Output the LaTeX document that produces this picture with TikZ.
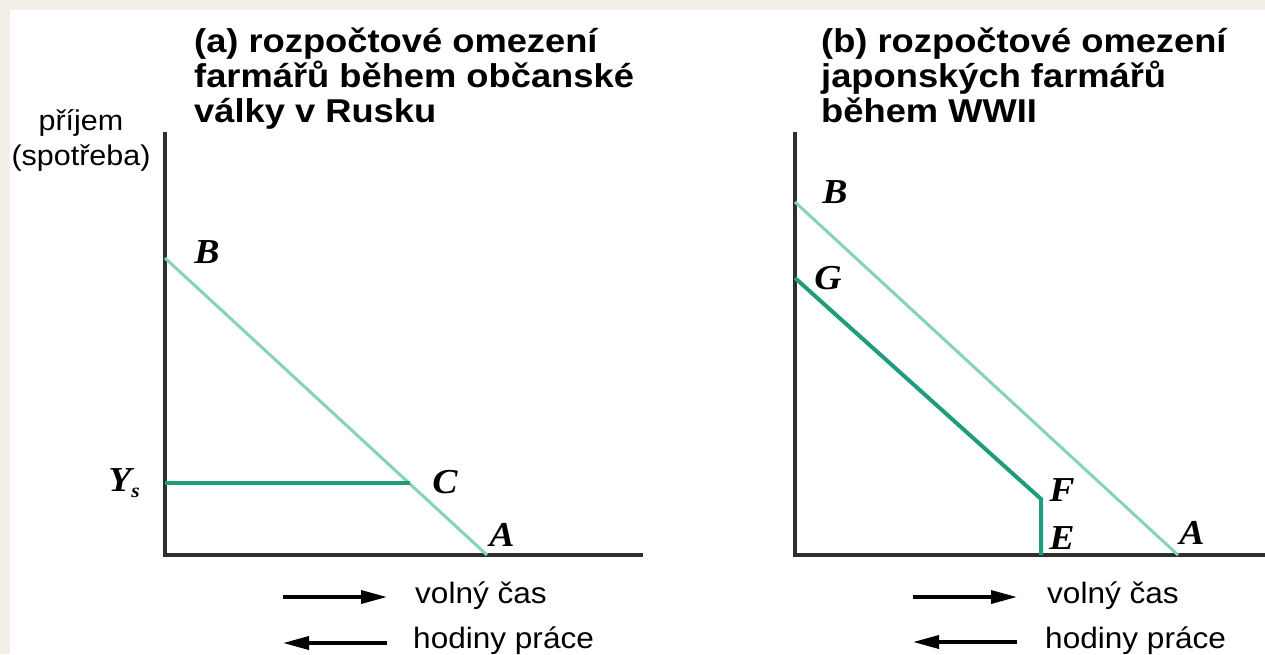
\documentclass[tikz,border=0pt]{standalone}
\usepackage{fontspec}
\setmainfont[FakeStretch=1.07]{Liberation Sans}
\newfontfamily\titlefont[FakeStretch=1.1]{Liberation Sans}
\newfontfamily\ptfont[FakeStretch=1.08]{Liberation Serif}
\usetikzlibrary{arrows.meta}
\definecolor{paper}{HTML}{F2EFE9}
\definecolor{lightteal}{HTML}{86D3B8}
\definecolor{darkteal}{HTML}{1F9C7E}
\definecolor{axisgray}{HTML}{2E2E2E}

\begin{document}
\begin{tikzpicture}[x=1pt, y=-1pt,
  axis/.style={axisgray, line width=4pt, line join=miter},
  budget/.style={lightteal, line width=3pt},
  limit/.style={darkteal, line width=4pt, line join=miter},
  ptlabel/.style={font=\ptfont\fontsize{35}{35}\selectfont\bfseries\itshape, inner sep=0pt},
  title/.style={font=\titlefont\fontsize{33}{35}\selectfont\bfseries, align=left, anchor=north west, inner sep=0pt},
  legend/.style={font=\fontsize{29.5}{29.5}\selectfont, anchor=west, inner sep=0pt},
  legarrow/.style={black, line width=3.5pt, -{Triangle[length=26pt,width=13pt]}}]
\fill[paper] (0,0) rectangle (1265,654);
\fill[white] (10,10) rectangle (1265,654);
\useasboundingbox (0,0) rectangle (1265,654);

% (a)
\coordinate (aTop) at (165,132);
\coordinate (aO) at (165,555);
\coordinate (aEnd) at (643,555);
\coordinate (aB) at (165,258);
\coordinate (aA) at (487,555);
\coordinate (aYs) at (165,483);
\coordinate (aC) at (410,483);
\draw[axis] (aTop) -- (aO) -- (aEnd);
\draw[budget] (aB) -- (aA);
\draw[limit] (aYs) -- (aC);
\node[title] (titleA) at (194,28) {(a) rozpočtové omezení\\farmářů během občanské\\války v Rusku};
\node[font=\fontsize{28.5}{35}\selectfont, align=center, inner sep=0pt] (ylab) at (81,140) {příjem\\(spotřeba)};
\node[ptlabel] (labBa) at (207,252) {B};
\node[ptlabel] (labYs) at (124,483) {Y\raisebox{-6pt}{\fontsize{20}{20}\selectfont s}};
\node[ptlabel] (labC) at (445,482) {C};
\node[ptlabel] (labAa) at (502,535) {A};
\coordinate (aL1s) at (283,597);
\coordinate (aL1e) at (387,597);
\coordinate (aL2s) at (387,643);
\coordinate (aL2e) at (283,643);
\draw[legarrow] (aL1s) -- (aL1e);
\draw[legarrow] (aL2s) -- (aL2e);
\node[legend] (freeA) at (415,596) {volný čas};
\node[legend] (workA) at (413,641) {hodiny práce};

% (b)
\coordinate (bTop) at (795,132);
\coordinate (bO) at (795,555);
\coordinate (bEnd) at (1265,555);
\coordinate (bB) at (795,202);
\coordinate (bA) at (1178,555);
\coordinate (bG) at (795,278);
\coordinate (bF) at (1041,499);
\coordinate (bE) at (1041,555);
\draw[axis] (bTop) -- (bO) -- (bEnd);
\draw[budget] (bB) -- (bA);
\draw[limit] (bG) -- (bF) -- (bE);
\node[title] (titleB) at (821,28) {(b) rozpočtové omezení\\japonských farmářů\\během WWII};
\node[ptlabel] (labBb) at (835,192) {B};
\node[ptlabel] (labG) at (828,278) {G};
\node[ptlabel] (labF) at (1062,490) {F};
\node[ptlabel] (labE) at (1062,538) {E};
\node[ptlabel] (labAb) at (1192,533) {A};
\coordinate (bL1s) at (913,597);
\coordinate (bL1e) at (1017,597);
\coordinate (bL2s) at (1017,642);
\coordinate (bL2e) at (913,642);
\draw[legarrow] (bL1s) -- (bL1e);
\draw[legarrow] (bL2s) -- (bL2e);
\node[legend] (freeB) at (1047,596) {volný čas};
\node[legend] (workB) at (1045,641) {hodiny práce};
\end{tikzpicture}
\end{document}
